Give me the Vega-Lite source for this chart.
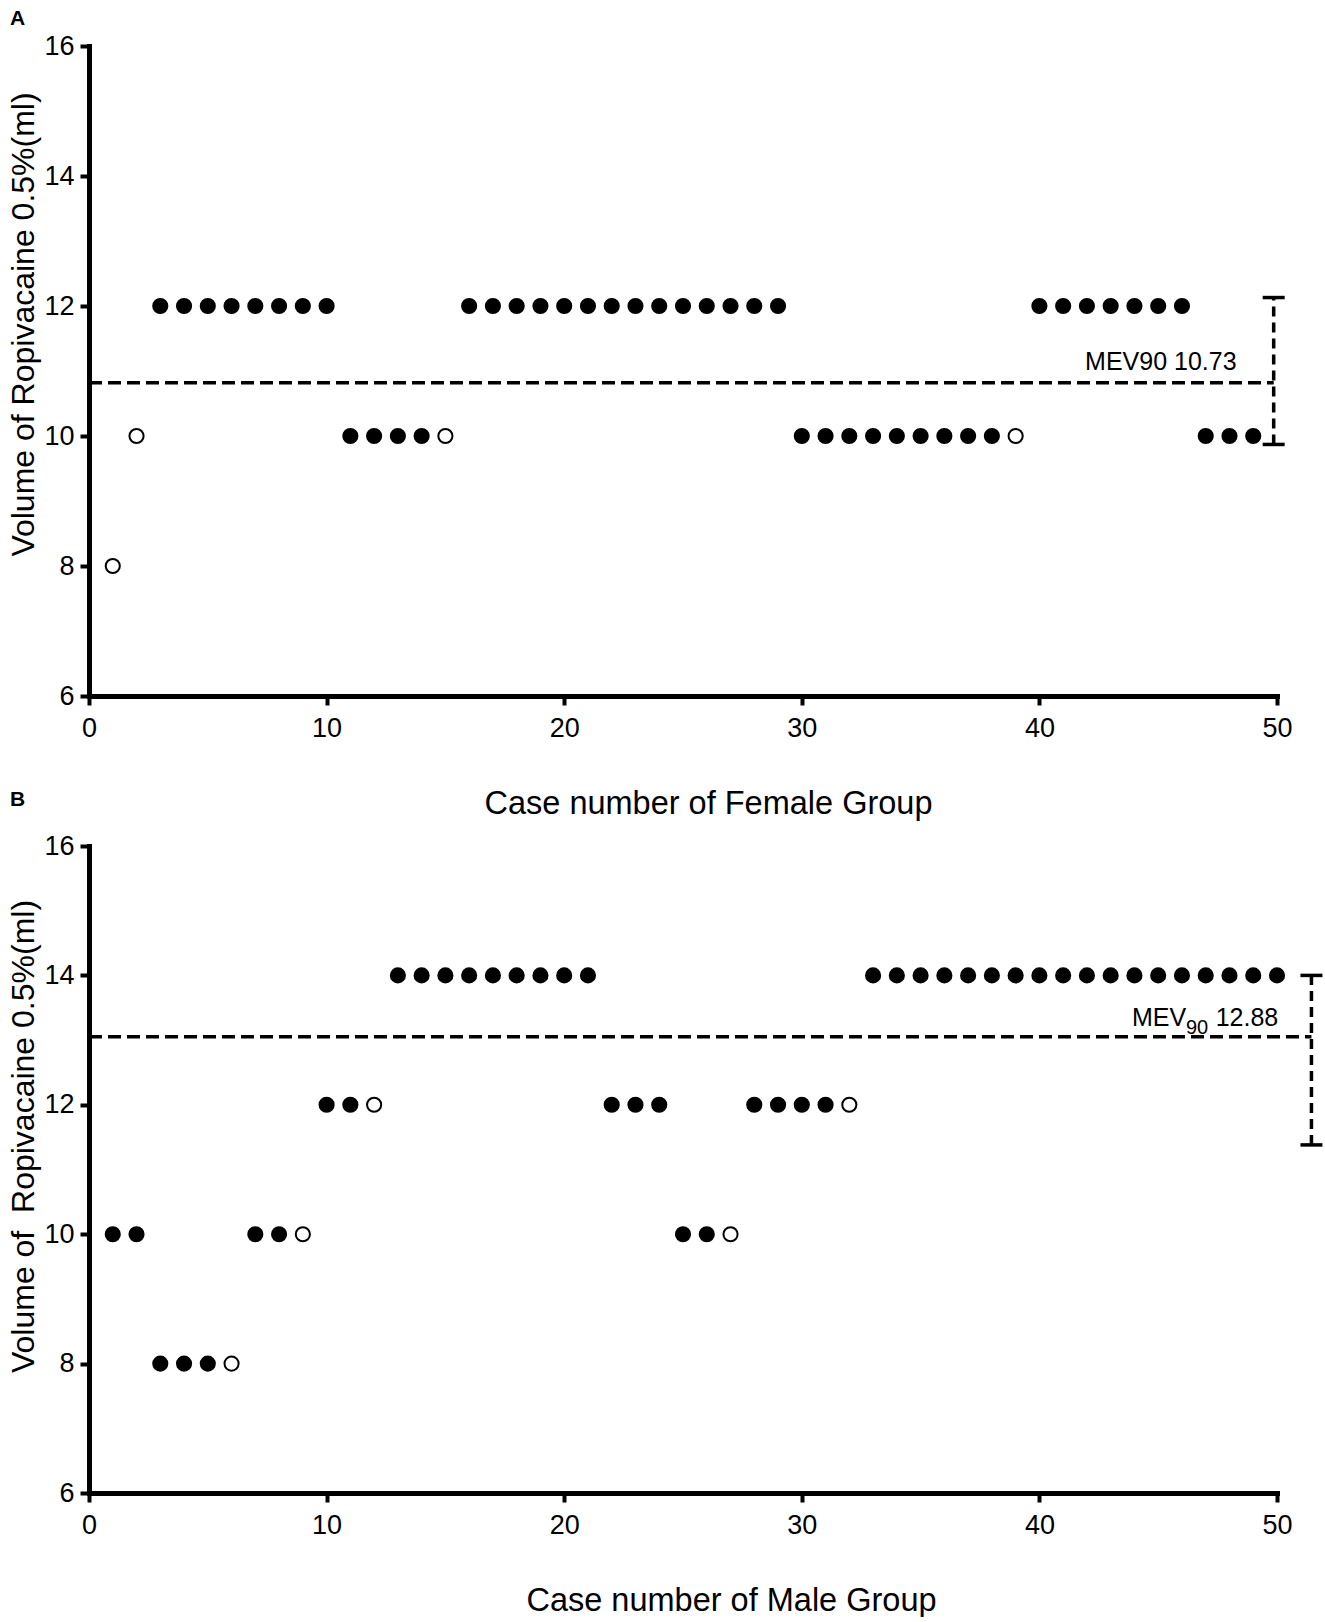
{
  "$schema": "https://vega.github.io/schema/vega-lite/v6.json",
  "padding": {"left": 6, "top": 8, "right": 0, "bottom": 0},
  "spacing": -31,
  "background": "white",
  "config": {
    "view": {"stroke": null},
    "font": "Liberation Sans",
    "axis": {
      "domainColor": "black", "domainWidth": 5, "domainCap": "square", "tickColor": "black", "tickWidth": 4, "tickSize": 9,
      "grid": false, "labelFont": "Liberation Sans", "labelFontSize": 27, "labelColor": "black", "labelFlush": false,
      "titleFont": "Liberation Sans", "titleColor": "black", "titleFontWeight": "normal"
    },
    "title": {"anchor": "start", "fontSize": 21, "fontWeight": "bold", "font": "Liberation Sans", "color": "black"}
  },
  "datasets": {
    "female": [
      {"case": 1, "volume": 8, "response": "ineffective"},
      {"case": 2, "volume": 10, "response": "ineffective"},
      {"case": 3, "volume": 12, "response": "effective"},
      {"case": 4, "volume": 12, "response": "effective"},
      {"case": 5, "volume": 12, "response": "effective"},
      {"case": 6, "volume": 12, "response": "effective"},
      {"case": 7, "volume": 12, "response": "effective"},
      {"case": 8, "volume": 12, "response": "effective"},
      {"case": 9, "volume": 12, "response": "effective"},
      {"case": 10, "volume": 12, "response": "effective"},
      {"case": 11, "volume": 10, "response": "effective"},
      {"case": 12, "volume": 10, "response": "effective"},
      {"case": 13, "volume": 10, "response": "effective"},
      {"case": 14, "volume": 10, "response": "effective"},
      {"case": 15, "volume": 10, "response": "ineffective"},
      {"case": 16, "volume": 12, "response": "effective"},
      {"case": 17, "volume": 12, "response": "effective"},
      {"case": 18, "volume": 12, "response": "effective"},
      {"case": 19, "volume": 12, "response": "effective"},
      {"case": 20, "volume": 12, "response": "effective"},
      {"case": 21, "volume": 12, "response": "effective"},
      {"case": 22, "volume": 12, "response": "effective"},
      {"case": 23, "volume": 12, "response": "effective"},
      {"case": 24, "volume": 12, "response": "effective"},
      {"case": 25, "volume": 12, "response": "effective"},
      {"case": 26, "volume": 12, "response": "effective"},
      {"case": 27, "volume": 12, "response": "effective"},
      {"case": 28, "volume": 12, "response": "effective"},
      {"case": 29, "volume": 12, "response": "effective"},
      {"case": 30, "volume": 10, "response": "effective"},
      {"case": 31, "volume": 10, "response": "effective"},
      {"case": 32, "volume": 10, "response": "effective"},
      {"case": 33, "volume": 10, "response": "effective"},
      {"case": 34, "volume": 10, "response": "effective"},
      {"case": 35, "volume": 10, "response": "effective"},
      {"case": 36, "volume": 10, "response": "effective"},
      {"case": 37, "volume": 10, "response": "effective"},
      {"case": 38, "volume": 10, "response": "effective"},
      {"case": 39, "volume": 10, "response": "ineffective"},
      {"case": 40, "volume": 12, "response": "effective"},
      {"case": 41, "volume": 12, "response": "effective"},
      {"case": 42, "volume": 12, "response": "effective"},
      {"case": 43, "volume": 12, "response": "effective"},
      {"case": 44, "volume": 12, "response": "effective"},
      {"case": 45, "volume": 12, "response": "effective"},
      {"case": 46, "volume": 12, "response": "effective"},
      {"case": 47, "volume": 10, "response": "effective"},
      {"case": 48, "volume": 10, "response": "effective"},
      {"case": 49, "volume": 10, "response": "effective"}
    ],
    "male": [
      {"case": 1, "volume": 10, "response": "effective"},
      {"case": 2, "volume": 10, "response": "effective"},
      {"case": 3, "volume": 8, "response": "effective"},
      {"case": 4, "volume": 8, "response": "effective"},
      {"case": 5, "volume": 8, "response": "effective"},
      {"case": 6, "volume": 8, "response": "ineffective"},
      {"case": 7, "volume": 10, "response": "effective"},
      {"case": 8, "volume": 10, "response": "effective"},
      {"case": 9, "volume": 10, "response": "ineffective"},
      {"case": 10, "volume": 12, "response": "effective"},
      {"case": 11, "volume": 12, "response": "effective"},
      {"case": 12, "volume": 12, "response": "ineffective"},
      {"case": 13, "volume": 14, "response": "effective"},
      {"case": 14, "volume": 14, "response": "effective"},
      {"case": 15, "volume": 14, "response": "effective"},
      {"case": 16, "volume": 14, "response": "effective"},
      {"case": 17, "volume": 14, "response": "effective"},
      {"case": 18, "volume": 14, "response": "effective"},
      {"case": 19, "volume": 14, "response": "effective"},
      {"case": 20, "volume": 14, "response": "effective"},
      {"case": 21, "volume": 14, "response": "effective"},
      {"case": 22, "volume": 12, "response": "effective"},
      {"case": 23, "volume": 12, "response": "effective"},
      {"case": 24, "volume": 12, "response": "effective"},
      {"case": 25, "volume": 10, "response": "effective"},
      {"case": 26, "volume": 10, "response": "effective"},
      {"case": 27, "volume": 10, "response": "ineffective"},
      {"case": 28, "volume": 12, "response": "effective"},
      {"case": 29, "volume": 12, "response": "effective"},
      {"case": 30, "volume": 12, "response": "effective"},
      {"case": 31, "volume": 12, "response": "effective"},
      {"case": 32, "volume": 12, "response": "ineffective"},
      {"case": 33, "volume": 14, "response": "effective"},
      {"case": 34, "volume": 14, "response": "effective"},
      {"case": 35, "volume": 14, "response": "effective"},
      {"case": 36, "volume": 14, "response": "effective"},
      {"case": 37, "volume": 14, "response": "effective"},
      {"case": 38, "volume": 14, "response": "effective"},
      {"case": 39, "volume": 14, "response": "effective"},
      {"case": 40, "volume": 14, "response": "effective"},
      {"case": 41, "volume": 14, "response": "effective"},
      {"case": 42, "volume": 14, "response": "effective"},
      {"case": 43, "volume": 14, "response": "effective"},
      {"case": 44, "volume": 14, "response": "effective"},
      {"case": 45, "volume": 14, "response": "effective"},
      {"case": 46, "volume": 14, "response": "effective"},
      {"case": 47, "volume": 14, "response": "effective"},
      {"case": 48, "volume": 14, "response": "effective"},
      {"case": 49, "volume": 14, "response": "effective"},
      {"case": 50, "volume": 14, "response": "effective"}
    ],
    "mevA": [
      {"x0": 0, "x1": 49.86, "mev": 10.82, "xbar": 49.86, "lo": 9.87, "hi": 12.13, "labelx": 48.3, "labely": 11.02, "label": "MEV90 10.73"}
    ],
    "mevB": [
      {"x0": 0, "x1": 51.45, "mev": 13.05, "xbar": 51.45, "lo": 11.38, "hi": 14.0, "labelx": 50.05, "labely": 13.22, "t1": "12.88", "t2": "90", "t3": "MEV"}
    ]
  },
  "vconcat": [
    {
      "title": {"text": "A", "dx": 3, "offset": 3},
      "width": 1188,
      "height": 650,
      "layer": [
        {
          "data": {"name": "mevA"},
          "mark": {"type": "rule", "strokeDash": [13, 6], "strokeWidth": 3.5, "color": "black"},
          "encoding": {
            "x": {"field": "x0", "type": "quantitative", "scale": {"domain": [0, 50], "nice": false},
                  "axis": {"values": [0, 10, 20, 30, 40, 50], "format": "d", "labelFontSize": 27, "domainWidth": 5, "tickWidth": 4, "tickSize": 9, "labelFlush": false, "title": "Case number of Female Group", "titleFontSize": 32.5, "titleX": 619, "titleY": 117, "titleBaseline": "alphabetic", "titleAlign": "center", "labelPadding": 10}},
            "x2": {"field": "x1"},
            "y": {"field": "mev", "type": "quantitative", "scale": {"domain": [6, 16], "nice": false},
                  "axis": {"values": [6, 8, 10, 12, 14, 16], "format": "d", "labelFontSize": 27, "domainWidth": 5, "tickWidth": 4, "tickSize": 9, "labelFlush": false, "title": "Volume of Ropivacaine 0.5%(ml)", "titleFontSize": 32, "titleX": -66, "titleY": 278, "titleAngle": 270, "titleBaseline": "middle", "titleAlign": "center", "labelPadding": 6}}
          }
        },
        {
          "data": {"name": "mevA"},
          "mark": {"type": "rule", "strokeDash": [10, 6], "strokeWidth": 3.5, "color": "black"},
          "encoding": {
            "x": {"field": "xbar", "type": "quantitative"},
            "y": {"field": "lo", "type": "quantitative"},
            "y2": {"field": "hi"}
          }
        },
        {
          "data": {"name": "mevA"},
          "mark": {"type": "tick", "orient": "horizontal", "size": 22, "thickness": 3.5, "color": "black", "opacity": 1},
          "encoding": {
            "x": {"field": "xbar", "type": "quantitative"},
            "y": {"field": "lo", "type": "quantitative"}
          }
        },
        {
          "data": {"name": "mevA"},
          "mark": {"type": "tick", "orient": "horizontal", "size": 22, "thickness": 3.5, "color": "black", "opacity": 1},
          "encoding": {
            "x": {"field": "xbar", "type": "quantitative"},
            "y": {"field": "hi", "type": "quantitative"}
          }
        },
        {
          "data": {"name": "mevA"},
          "mark": {"type": "text", "align": "right", "baseline": "alphabetic", "fontSize": 25, "font": "Liberation Sans", "color": "black"},
          "encoding": {
            "x": {"field": "labelx", "type": "quantitative"},
            "y": {"field": "labely", "type": "quantitative"},
            "text": {"field": "label"}
          }
        },
        {
          "data": {"name": "female"},
          "mark": {"type": "point", "shape": "circle", "filled": true, "stroke": "black", "strokeWidth": 2, "size": 200, "opacity": 1},
          "encoding": {
            "x": {"field": "case", "type": "quantitative"},
            "y": {"field": "volume", "type": "quantitative"},
            "fill": {"field": "response", "type": "nominal", "scale": {"domain": ["effective", "ineffective"], "range": ["black", "white"]}, "legend": null}
          }
        }
      ]
    },
    {
      "title": {"text": "B", "dx": 3, "offset": 22},
      "width": 1188,
      "height": 647,
      "layer": [
        {
          "data": {"name": "mevB"},
          "mark": {"type": "rule", "strokeDash": [13, 6], "strokeWidth": 3.5, "color": "black"},
          "encoding": {
            "x": {"field": "x0", "type": "quantitative", "scale": {"domain": [0, 50], "nice": false},
                  "axis": {"values": [0, 10, 20, 30, 40, 50], "format": "d", "labelFontSize": 27, "domainWidth": 5, "tickWidth": 4, "tickSize": 9, "labelFlush": false, "title": "Case number of Male Group", "titleFontSize": 32.5, "titleX": 642, "titleY": 117, "titleBaseline": "alphabetic", "titleAlign": "center", "labelPadding": 10}},
            "x2": {"field": "x1"},
            "y": {"field": "mev", "type": "quantitative", "scale": {"domain": [6, 16], "nice": false},
                  "axis": {"values": [6, 8, 10, 12, 14, 16], "format": "d", "labelFontSize": 27, "domainWidth": 5, "tickWidth": 4, "tickSize": 9, "labelFlush": false, "title": "Volume of\u00a0 Ropivacaine 0.5%(ml)", "titleFontSize": 32, "titleX": -66, "titleY": 290, "titleAngle": 270, "titleBaseline": "middle", "titleAlign": "center", "labelPadding": 6}}
          }
        },
        {
          "data": {"name": "mevB"},
          "mark": {"type": "rule", "strokeDash": [10, 6], "strokeWidth": 3.5, "color": "black"},
          "encoding": {
            "x": {"field": "xbar", "type": "quantitative"},
            "y": {"field": "lo", "type": "quantitative"},
            "y2": {"field": "hi"}
          }
        },
        {
          "data": {"name": "mevB"},
          "mark": {"type": "tick", "orient": "horizontal", "size": 22, "thickness": 3.5, "color": "black", "opacity": 1},
          "encoding": {
            "x": {"field": "xbar", "type": "quantitative"},
            "y": {"field": "lo", "type": "quantitative"}
          }
        },
        {
          "data": {"name": "mevB"},
          "mark": {"type": "tick", "orient": "horizontal", "size": 22, "thickness": 3.5, "color": "black", "opacity": 1},
          "encoding": {
            "x": {"field": "xbar", "type": "quantitative"},
            "y": {"field": "hi", "type": "quantitative"}
          }
        },
        {
          "data": {"name": "mevB"},
          "mark": {"type": "text", "align": "right", "baseline": "alphabetic", "fontSize": 25, "font": "Liberation Sans", "color": "black"},
          "encoding": {
            "x": {"field": "labelx", "type": "quantitative"},
            "y": {"field": "labely", "type": "quantitative"},
            "text": {"field": "t1"}
          }
        },
        {
          "data": {"name": "mevB"},
          "mark": {"type": "text", "align": "right", "baseline": "alphabetic", "fontSize": 20, "dx": -70, "dy": 8, "font": "Liberation Sans", "color": "black"},
          "encoding": {
            "x": {"field": "labelx", "type": "quantitative"},
            "y": {"field": "labely", "type": "quantitative"},
            "text": {"field": "t2"}
          }
        },
        {
          "data": {"name": "mevB"},
          "mark": {"type": "text", "align": "right", "baseline": "alphabetic", "fontSize": 25, "dx": -92, "font": "Liberation Sans", "color": "black"},
          "encoding": {
            "x": {"field": "labelx", "type": "quantitative"},
            "y": {"field": "labely", "type": "quantitative"},
            "text": {"field": "t3"}
          }
        },
        {
          "data": {"name": "male"},
          "mark": {"type": "point", "shape": "circle", "filled": true, "stroke": "black", "strokeWidth": 2, "size": 200, "opacity": 1},
          "encoding": {
            "x": {"field": "case", "type": "quantitative"},
            "y": {"field": "volume", "type": "quantitative"},
            "fill": {"field": "response", "type": "nominal", "scale": {"domain": ["effective", "ineffective"], "range": ["black", "white"]}, "legend": null}
          }
        }
      ]
    }
  ]
}
